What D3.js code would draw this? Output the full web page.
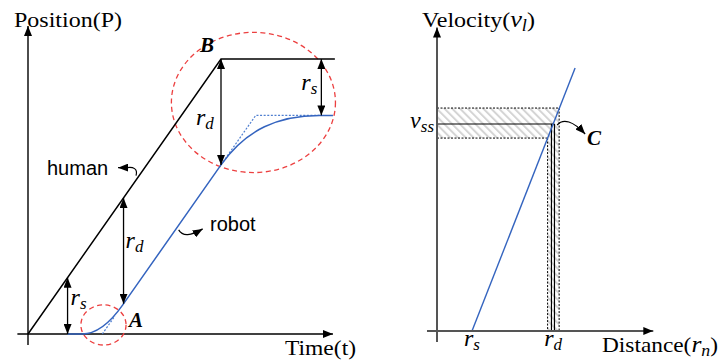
<!DOCTYPE html>
<html><head><meta charset="utf-8">
<script src="https://cdn.jsdelivr.net/npm/d3@7"></script>
<style>
html,body{margin:0;padding:0;background:#fff;}
svg{display:block;}
</style></head>
<body>
<svg id="chart" width="721" height="363"></svg>
<script>
// ---------- left panel: position over time (model units) ----------
const humanT = [0, 10, 15.9];
const humanP = [0, 10, 10];
// robot trajectory knots: start, flat end, corner, join, line end, ctrl1, ctrl2, settle, end
const robotT = [2.05, 2.8, 3.85, 4.9, 10, 11.3, 13.0, 15.1, 15.8];
const robotP = [0, 0, 0, 1.05, 6.15, 7.45, 7.95, 7.95, 7.95];
// dotted tangent guides of the robot path
const guideLowT = [3.85, 4.5], guideLowP = [0, 0.65];
const guideHighT = [10, 11.8, 15.1], guideHighP = [6.15, 7.95, 7.95];
// distance markers (time, from, to, subscript)
const dimT = [2.05, 4.95, 10, 15.2];
const dimFrom = [2.05, 4.95, 10, 10];
const dimTo = [0, 1.1, 6.15, 7.95];
const dimSub = ["s", "d", "d", "s"];
// highlighted regions (centre t, centre P, radius t, radius P)
const zonesName = ["B", "A"];
const zonesT = [11.68, 3.91], zonesP = [8.42, 0.33];
const zonesRT = [4.25, 1.17], zonesRP = [2.55, 0.73];

// ---------- right panel: velocity over distance ----------
const rsR = 0.5, rdR = 1.66, vSS = 1.0;
const velR = [0.5, 1.973], velV = [0, 1.27];
const vBand = [0.932, 1.077];
const rBand = [1.58, 1.745];
const rdDouble = [1.635, 1.678];

const svg = d3.select("#chart");
const defs = svg.append("defs");
function marker(id, color, w, h) {
  defs.append("marker").attr("id", id)
    .attr("markerUnits", "userSpaceOnUse")
    .attr("markerWidth", w).attr("markerHeight", h)
    .attr("viewBox", `0 0 ${w} ${h}`)
    .attr("refX", w).attr("refY", h / 2)
    .attr("orient", "auto-start-reverse")
    .append("path").attr("d", `M0,0L${w},${h/2}L0,${h}Z`).attr("fill", color);
}
marker("arr", "#000", 10, 8);
marker("axArr", "#000", 10, 8);
const pat = defs.append("pattern").attr("id", "hatch")
  .attr("patternUnits", "userSpaceOnUse").attr("width", 5.5).attr("height", 5.5)
  .attr("patternTransform", "rotate(-45)");
pat.append("rect").attr("width", 5.5).attr("height", 5.5).attr("fill", "#fff");
pat.append("rect").attr("x", 0).attr("width", 2).attr("height", 5.5).attr("fill", "#d4d4d4");

const serif = "'Liberation Serif', 'Times New Roman', serif";
const sans = "'Liberation Sans', Arial, sans-serif";

// ===== left panel =====
const xL = d3.scaleLinear().domain([0, 16]).range([28, 28 + 16 * 19.3]);
const yL = d3.scaleLinear().domain([0, 11]).range([334, 334 - 11 * 27.5]);
const L = svg.append("g");

// axes
L.append("line").attr("x1", xL(0)).attr("x2", xL(0)).attr("y1", yL(-0.4)).attr("y2", yL(11.2))
  .attr("stroke", "#000").attr("stroke-width", 1.4).attr("marker-end", "url(#axArr)");
L.append("line").attr("x1", xL(-0.55)).attr("x2", xL(15.8)).attr("y1", yL(0)).attr("y2", yL(0))
  .attr("stroke", "#000").attr("stroke-width", 1.4).attr("marker-end", "url(#axArr)");

// highlight ellipses
L.selectAll("ellipse.zone").data(zonesName).join("ellipse").attr("class", "zone")
  .attr("cx", (d, i) => xL(zonesT[i])).attr("cy", (d, i) => yL(zonesP[i]))
  .attr("rx", (d, i) => xL(zonesRT[i]) - xL(0)).attr("ry", (d, i) => yL(0) - yL(zonesRP[i]))
  .attr("fill", "none").attr("stroke", "#ec4040").attr("stroke-width", 1.3)
  .attr("stroke-dasharray", "5,3.5");

// human
const line = d3.line();
L.append("path").attr("d", line(humanT.map((t, i) => [xL(t), yL(humanP[i])])))
  .attr("fill", "none").attr("stroke", "#000").attr("stroke-width", 1.5);

// dotted guides
[[guideLowT, guideLowP], [guideHighT, guideHighP]].forEach(([T, P]) => {
  L.append("path").attr("d", line(T.map((t, i) => [xL(t), yL(P[i])])))
    .attr("fill", "none").attr("stroke", "#4f7fd0").attr("stroke-width", 1.2)
    .attr("stroke-dasharray", "2,1.6");
});

// robot
const k = robotT.map((t, i) => [xL(t), yL(robotP[i])]);
const rp = d3.path();
rp.moveTo(...k[0]); rp.lineTo(...k[1]);
rp.quadraticCurveTo(...k[2], ...k[3]);
rp.lineTo(...k[4]);
rp.bezierCurveTo(...k[5], ...k[6], ...k[7]);
rp.lineTo(...k[8]);
L.append("path").attr("d", rp.toString()).attr("fill", "none")
  .attr("stroke", "#3464bf").attr("stroke-width", 1.5);

// distance arrows
dimT.forEach((t, i) => {
  L.append("line").attr("x1", xL(t)).attr("x2", xL(t))
    .attr("y1", yL(dimFrom[i])).attr("y2", yL(dimTo[i]))
    .attr("stroke", "#000").attr("stroke-width", 1.3)
    .attr("marker-start", "url(#arr)").attr("marker-end", "url(#arr)");
});
// distance labels
const dimLabX = [3, 2, -25, -20];
const dimLabY = [305, 248, 125, 90];
dimT.forEach((t, i) => {
  const tx = L.append("text").attr("x", xL(t) + dimLabX[i]).attr("y", dimLabY[i])
    .attr("font-family", serif).attr("font-style", "italic").attr("font-size", 24);
  tx.append("tspan").text("r");
  tx.append("tspan").attr("font-size", 17).attr("dy", 4).text(dimSub[i]);
});

// zone labels
L.append("text").attr("x", 200).attr("y", 52).text("B")
  .attr("font-family", serif).attr("font-style", "italic").attr("font-weight", "bold").attr("font-size", 21);
L.append("text").attr("x", 129).attr("y", 327).text("A")
  .attr("font-family", serif).attr("font-style", "italic").attr("font-weight", "bold").attr("font-size", 21);

// series labels
L.append("text").attr("x", 47).attr("y", 175).text("human")
  .attr("font-family", sans).attr("font-size", 20);
L.append("text").attr("x", 210).attr("y", 231).text("robot")
  .attr("font-family", sans).attr("font-size", 20);
// leaders
const hA = [xL(5.65), yL(5.65)];
L.append("path")
  .attr("d", `M${hA[0] - 1},${hA[1] - 3} C${hA[0] + 1},${hA[1] - 10} ${hA[0] - 4},${hA[1] - 12} ${hA[0] - 10},${hA[1] - 11} L${hA[0] - 19},${hA[1] - 11}`)
  .attr("fill", "none").attr("stroke", "#000").attr("stroke-width", 1.2).attr("marker-end", "url(#arr)");
const rA = [xL(7.6), yL(3.75)];
L.append("path")
  .attr("d", `M${rA[0] + 4},${rA[1] - 1} C${rA[0] + 8},${rA[1] + 6} ${rA[0] + 16},${rA[1] + 5} ${rA[0] + 28},${rA[1] - 2}`)
  .attr("fill", "none").attr("stroke", "#000").attr("stroke-width", 1.2).attr("marker-end", "url(#arr)");

// axis titles
L.append("text").attr("x", 14).attr("y", 27).text("Position(P)")
  .attr("font-family", serif).attr("font-size", 21).attr("textLength", 108).attr("lengthAdjust", "spacingAndGlyphs");
L.append("text").attr("x", 285).attr("y", 355).text("Time(t)")
  .attr("font-family", serif).attr("font-size", 21).attr("textLength", 71).attr("lengthAdjust", "spacingAndGlyphs");

// ===== right panel =====
const xR = d3.scaleLinear().domain([0, 3.1]).range([437, 437 + 3.1 * 70]);
const yR = d3.scaleLinear().domain([0, 1.5]).range([331, 331 - 1.5 * 207]);
const R = svg.append("g");

// hatched bands
R.append("rect").attr("x", xR(0)).attr("y", yR(vBand[1]))
  .attr("width", xR(rBand[1]) - xR(0)).attr("height", yR(vBand[0]) - yR(vBand[1]))
  .attr("fill", "url(#hatch)");
R.append("rect").attr("x", xR(rBand[0])).attr("y", yR(vBand[1]))
  .attr("width", xR(rBand[1]) - xR(rBand[0])).attr("height", yR(0) - yR(vBand[1]))
  .attr("fill", "url(#hatch)");

// band edges (dotted)
const dotted = (x1, y1, x2, y2) => R.append("line").attr("x1", x1).attr("y1", y1).attr("x2", x2).attr("y2", y2)
  .attr("stroke", "#000").attr("stroke-width", 1).attr("stroke-dasharray", "2,1.5");
dotted(xR(0), yR(vBand[1]), xR(rBand[1]), yR(vBand[1]));
dotted(xR(rBand[1]), yR(vBand[1]), xR(rBand[1]), yR(0));
dotted(xR(0), yR(vBand[0]), xR(rBand[0]), yR(vBand[0]));
dotted(xR(rBand[0]), yR(vBand[0]), xR(rBand[0]), yR(0));

// steady-state lines
R.append("line").attr("x1", xR(0)).attr("x2", xR(rdDouble[1])).attr("y1", yR(vSS)).attr("y2", yR(vSS))
  .attr("stroke", "#000").attr("stroke-width", 1.2);
rdDouble.forEach(r => {
  R.append("line").attr("x1", xR(r)).attr("x2", xR(r)).attr("y1", yR(vSS)).attr("y2", yR(0))
    .attr("stroke", "#000").attr("stroke-width", 1.2);
});

// velocity law
R.append("path").attr("d", line(velR.map((r, i) => [xR(r), yR(velV[i])])))
  .attr("fill", "none").attr("stroke", "#3464bf").attr("stroke-width", 1.4);

// axes
R.append("line").attr("x1", xR(0)).attr("x2", xR(0)).attr("y1", yR(-0.053)).attr("y2", yR(1.466))
  .attr("stroke", "#555").attr("stroke-width", 2).attr("marker-end", "url(#axArr)");
R.append("line").attr("x1", xR(-0.143)).attr("x2", xR(3.09)).attr("y1", yR(0)).attr("y2", yR(0))
  .attr("stroke", "#555").attr("stroke-width", 2).attr("marker-end", "url(#axArr)");

// C leader
const cA = [xR(rBand[1]), yR(vSS)];
R.append("path")
  .attr("d", `M${cA[0] - 2},${cA[1] + 1} C${cA[0] + 4},${cA[1] - 6} ${cA[0] + 14},${cA[1] - 3} ${cA[0] + 26},${cA[1] + 10}`)
  .attr("fill", "none").attr("stroke", "#000").attr("stroke-width", 1.2).attr("marker-end", "url(#arr)");
R.append("text").attr("x", 587).attr("y", 145).text("C")
  .attr("font-family", serif).attr("font-style", "italic").attr("font-weight", "bold").attr("font-size", 21);

// tick labels
function mathLabel(g, x, y, main, sub, anchor) {
  const t = g.append("text").attr("x", x).attr("y", y).attr("text-anchor", anchor)
    .attr("font-family", serif).attr("font-style", "italic").attr("font-size", 24);
  t.append("tspan").text(main);
  t.append("tspan").attr("font-size", 17).attr("dy", 4).text(sub);
  return t;
}
mathLabel(R, xR(rsR), 346, "r", "s", "middle");
mathLabel(R, xR(rdR), 346, "r", "d", "middle");
mathLabel(R, xR(0) - 3, 128, "v", "ss", "end");

// axis titles
const vt = R.append("text").attr("x", 422).attr("y", 27)
  .attr("font-family", serif).attr("font-size", 21)
  .attr("textLength", 113).attr("lengthAdjust", "spacingAndGlyphs");
vt.append("tspan").text("Velocity(");
vt.append("tspan").attr("font-style", "italic").attr("font-size", 23).text("v");
vt.append("tspan").attr("font-style", "italic").attr("font-size", 16).attr("dy", 4).text("l");
vt.append("tspan").attr("dy", -4).text(")");
const dt = R.append("text").attr("x", 602).attr("y", 352)
  .attr("font-family", serif).attr("font-size", 21)
  .attr("textLength", 116).attr("lengthAdjust", "spacingAndGlyphs");
dt.append("tspan").text("Distance(");
dt.append("tspan").attr("font-style", "italic").attr("font-size", 23).text("r");
dt.append("tspan").attr("font-style", "italic").attr("font-size", 16).attr("dy", 4).text("n");
dt.append("tspan").attr("dy", -4).text(")");
</script>
</body></html>
